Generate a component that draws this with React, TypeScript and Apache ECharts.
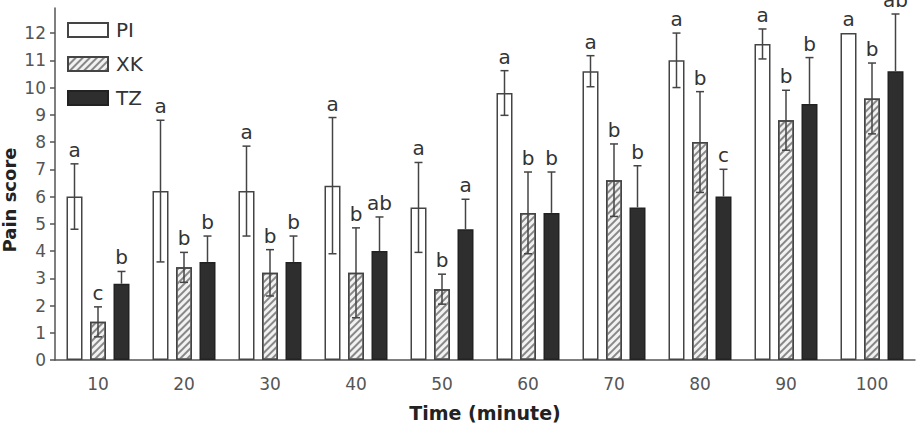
import React, { useEffect, useRef } from "react";
import * as echarts from "echarts";

// Time points (minutes)
const categories = ["10", "20", "30", "40", "50", "60", "70", "80", "90", "100"];

// Mean pain scores and standard deviations per group
const piMean = [6.0, 6.2, 6.2, 6.4, 5.6, 9.8, 10.6, 11.0, 11.6, 12.0];
const piSd = [1.2, 2.6, 1.65, 2.5, 1.65, 0.82, 0.57, 1.0, 0.55, 0];
const xkMean = [1.4, 3.4, 3.2, 3.2, 2.6, 5.4, 6.6, 8.0, 8.8, 9.6];
const xkSd = [0.55, 0.55, 0.85, 1.65, 0.55, 1.5, 1.33, 1.85, 1.1, 1.3];
const tzMean = [2.8, 3.6, 3.6, 4.0, 4.8, 5.4, 5.6, 6.0, 9.4, 10.6];
const tzSd = [0.45, 0.95, 0.95, 1.25, 1.1, 1.5, 1.53, 1.0, 1.7, 2.1];

// Significance letters above each bar
const piLetters = ["a", "a", "a", "a", "a", "a", "a", "a", "a", "a"];
const xkLetters = ["c", "b", "b", "b", "b", "b", "b", "b", "b", "b"];
const tzLetters = ["b", "b", "b", "ab", "a", "b", "b", "c", "b", "ab"];

// Y-axis tick values
const yTicks = [0, 1, 2, 3, 4, 5, 6, 7, 8, 9, 10, 11, 12];

const FONT = "'DejaVu Sans', 'Liberation Sans', Arial, sans-serif";
const BAR_WIDTH = 16;
const BAR_GAP = 7.5;
const STEP = BAR_WIDTH + BAR_GAP;
const LINE = "#444";

function errorSeries(
  name: string,
  mean: number[],
  sd: number[],
  letters: string[],
  offset: number,
  showLower: boolean
) {
  return {
    type: "custom",
    name,
    z: 5,
    silent: true,
    clip: false,
    data: mean.map((m, i) => [i, m, sd[i]]),
    renderItem: (params: any, api: any) => {
      const i = api.value(0);
      const m = api.value(1);
      const s = api.value(2);
      const base = api.coord([i, m]);
      const x = base[0] + offset;
      const yTop = api.coord([i, m + s])[1];
      const yBot = showLower ? api.coord([i, m - s])[1] : base[1];
      const cap = 4;
      const children: any[] = [];
      const lineStyle = { stroke: LINE, lineWidth: 1.5 };
      if (s > 0) {
        children.push({
          type: "line",
          shape: { x1: x, y1: yBot, x2: x, y2: yTop },
          style: lineStyle,
        });
        children.push({
          type: "line",
          shape: { x1: x - cap, y1: yTop, x2: x + cap, y2: yTop },
          style: lineStyle,
        });
        if (showLower) {
          children.push({
            type: "line",
            shape: { x1: x - cap, y1: yBot, x2: x + cap, y2: yBot },
            style: lineStyle,
          });
        }
      }
      children.push({
        type: "text",
        x,
        y: yTop - 4,
        style: {
          text: letters[i],
          fill: "#333",
          font: `20px ${FONT}`,
          align: "center",
          verticalAlign: "bottom",
        },
      });
      return { type: "group", children };
    },
  };
}

export default function App() {
  const ref = useRef<HTMLDivElement>(null);

  useEffect(() => {
    if (!ref.current) return;
    const chart = echarts.init(ref.current, undefined, { renderer: "svg" });

    chart.setOption({
      animation: false,
      backgroundColor: "#fff",
      grid: { left: 55, right: 6, top: 8, bottom: 59 },
      legend: {
        data: ["PI", "XK", "TZ"],
        orient: "vertical",
        left: 67,
        top: 20,
        padding: 0,
        itemWidth: 40,
        itemHeight: 14,
        itemGap: 14,
        icon: "rect",
        selectedMode: false,
        textStyle: {
          fontFamily: FONT,
          fontSize: 20,
          color: "#333",
          padding: [0, 0, 0, 3],
        },
      },
      graphic: [
        {
          type: "text",
          x: 9,
          y: 200,
          rotation: Math.PI / 2,
          style: {
            text: "Pain score",
            font: `bold 18px ${FONT}`,
            fill: "#222",
            align: "center",
            verticalAlign: "middle",
          },
        },
      ],
      xAxis: {
        type: "category",
        data: categories,
        name: "Time (minute)",
        nameLocation: "middle",
        nameGap: 43,
        nameTextStyle: {
          fontFamily: FONT,
          fontSize: 19,
          fontWeight: "bold",
          color: "#222",
        },
        axisLine: { lineStyle: { color: "#555", width: 1.5 } },
        axisTick: { show: false },
        axisLabel: {
          fontFamily: FONT,
          fontSize: 17,
          color: "#555",
          margin: 15,
        },
      },
      yAxis: {
        type: "value",
        min: 0,
        max: 12.92,
        interval: 1,
        splitLine: { show: false },
        axisLine: { show: true, lineStyle: { color: "#555", width: 1.5 } },
        axisTick: {
          show: true,
          length: 5,
          customValues: yTicks,
          lineStyle: { color: "#555", width: 1.5 },
        },
        axisLabel: {
          customValues: yTicks,
          fontFamily: FONT,
          fontSize: 17,
          color: "#555",
          margin: 9,
        },
      },
      series: [
        {
          type: "bar",
          name: "PI",
          data: piMean,
          barWidth: BAR_WIDTH,
          barGap: `${(BAR_GAP / BAR_WIDTH) * 100}%`,
          itemStyle: { color: "#fff", borderColor: LINE, borderWidth: 1.5 },
        },
        {
          type: "bar",
          name: "XK",
          data: xkMean,
          barWidth: BAR_WIDTH,
          itemStyle: {
            color: "#f2f2f2",
            borderColor: LINE,
            borderWidth: 1.5,
            decal: {
              symbol: "rect",
              symbolSize: 1,
              color: "#888",
              dashArrayX: [1, 0],
              dashArrayY: [1.5, 2.5],
              rotation: -Math.PI / 4,
            },
          },
        },
        {
          type: "bar",
          name: "TZ",
          data: tzMean,
          barWidth: BAR_WIDTH,
          itemStyle: { color: "#2e2e2e", borderColor: "#222", borderWidth: 1.5 },
        },
        errorSeries("PI-err", piMean, piSd, piLetters, -STEP, true),
        errorSeries("XK-err", xkMean, xkSd, xkLetters, 0, true),
        errorSeries("TZ-err", tzMean, tzSd, tzLetters, STEP, false),
      ],
    });

    return () => chart.dispose();
  }, []);

  return (
    <div
      ref={ref}
      style={{ position: "fixed", left: 0, top: 0, width: 921, height: 427 }}
    />
  );
}
